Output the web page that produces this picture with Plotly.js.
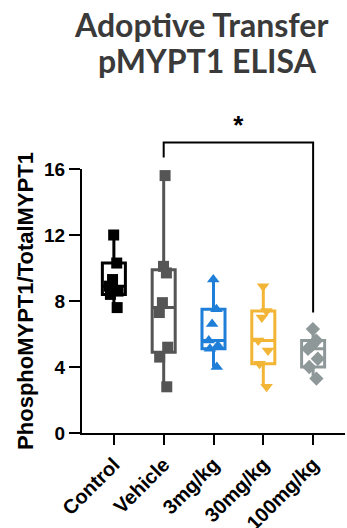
<!DOCTYPE html>
<html>
<head>
<meta charset="utf-8">
<script src="https://cdn.plot.ly/plotly-3.0.1.min.js"></script>
<style>html,body{margin:0;padding:0;background:#fff;}#chart{width:347px;height:528px;}</style>
</head>
<body>
<div id="chart"></div>
<script>
const categories = ['Control', 'Vehicle', '3mg/kg', '30mg/kg', '100mg/kg'];
const control = [12.0, 10.3, 9.3, 8.9, 8.6, 8.4, 7.6];
const vehicle = [15.6, 10.1, 9.7, 7.9, 7.3, 5.2, 4.6, 2.8];
const mg3 = [9.3, 7.5, 6.6, 5.6, 5.3, 5.1, 4.0];
const mg30 = [8.9, 7.4, 7.0, 5.6, 5.0, 4.2, 2.8];
const mg100 = [6.3, 5.6, 5.3, 5.1, 4.5, 4.0, 3.3];
const groups = [control, vehicle, mg3, mg30, mg100];
const colors = ['#000000', '#555555', '#1f7fd8', '#f2b535', '#8e9898'];
const symbols = ['square', 'square', 'triangle-up', 'triangle-down', 'diamond'];
const yTicks = [0, 4, 8, 12, 16];
const yMax = 16;
// significance bracket: Vehicle vs 100mg/kg
const sigFrom = 1, sigTo = 4;
const sigLevels = [16.7, 17.6, 17.6, 7.3];
const sigLabel = '*';
const sigLabelY = 18.5;
const titleLines = ['Adoptive Transfer', 'pMYPT1 ELISA'];

const yDomainTop = 0.7928;

const traces = groups.map((vals, i) => ({
  type: 'box',
  y: vals,
  x0: i,
  name: categories[i],
  boxpoints: 'all',
  jitter: 0.55,
  pointpos: 0,
  quartilemethod: 'exclusive',
  whiskerwidth: 0,
  fillcolor: '#ffffff',
  line: {color: colors[i], width: 3},
  marker: {color: colors[i], symbol: symbols[i], size: 11},
  hoverinfo: 'none',
  showlegend: false
}));

traces.push({
  type: 'scatter',
  mode: 'lines',
  x: [sigFrom, sigFrom, sigTo, sigTo],
  y: sigLevels,
  yaxis: 'y2',
  line: {color: '#000', width: 2},
  hoverinfo: 'none',
  showlegend: false
});
traces.push({
  type: 'scatter',
  mode: 'text',
  x: [(sigFrom + sigTo) / 2],
  y: [sigLabelY],
  yaxis: 'y2',
  text: [sigLabel],
  textfont: {family: 'Liberation Sans, Arial', size: 26, color: '#000', weight: 'bold'},
  textposition: 'middle center',
  cliponaxis: false,
  hoverinfo: 'none',
  showlegend: false
});

const titleFont = {family: 'Lato', size: 32, color: '#3a3a3a', weight: 'bold'};

const layout = {
  width: 347,
  height: 528,
  margin: {l: 82, r: 2, t: 100, b: 95},
  paper_bgcolor: '#fff',
  plot_bgcolor: 'rgba(0,0,0,0)',
  boxmode: 'overlay',
  boxgap: 0.34,
  annotations: [
    {text: titleLines[0], xref: 'paper', yref: 'paper', x: 0.4506, y: 1.2282,
     xanchor: 'center', yanchor: 'middle', showarrow: false, font: titleFont},
    {text: titleLines[1], xref: 'paper', yref: 'paper', x: 0.477, y: 1.1191,
     xanchor: 'center', yanchor: 'middle', showarrow: false, font: titleFont}
  ],
  xaxis: {
    range: [-0.64, 4.64],
    tickvals: [0, 1, 2, 3, 4],
    ticktext: categories,
    tickangle: -45,
    ticks: 'outside', ticklen: 10, tickwidth: 2, tickcolor: '#000',
    showline: true, linecolor: '#000', linewidth: 2,
    showgrid: false, zeroline: false,
    tickfont: {family: 'Liberation Sans, Arial', size: 20, color: '#000', weight: 'bold'}
  },
  yaxis: {
    domain: [0, yDomainTop],
    range: [0, yMax],
    tickvals: yTicks,
    ticks: 'outside', ticklen: 11, tickwidth: 2, tickcolor: '#000',
    showline: true, linecolor: '#000', linewidth: 2,
    showgrid: false, zeroline: false,
    tickfont: {family: 'Liberation Sans, Arial', size: 19, color: '#000', weight: 'bold'},
    title: {
      text: 'PhosphoMYPT1/TotalMYPT1',
      font: {family: 'Liberation Sans, Arial', size: 22, color: '#000', weight: 'bold'},
      standoff: 4
    }
  },
  yaxis2: {
    domain: [0, 1],
    range: [0, yMax / yDomainTop],
    anchor: 'x',
    visible: false,
    showgrid: false, zeroline: false
  },
  showlegend: false
};

Plotly.newPlot('chart', traces, layout, {displayModeBar: false, staticPlot: true});
</script>
</body>
</html>
